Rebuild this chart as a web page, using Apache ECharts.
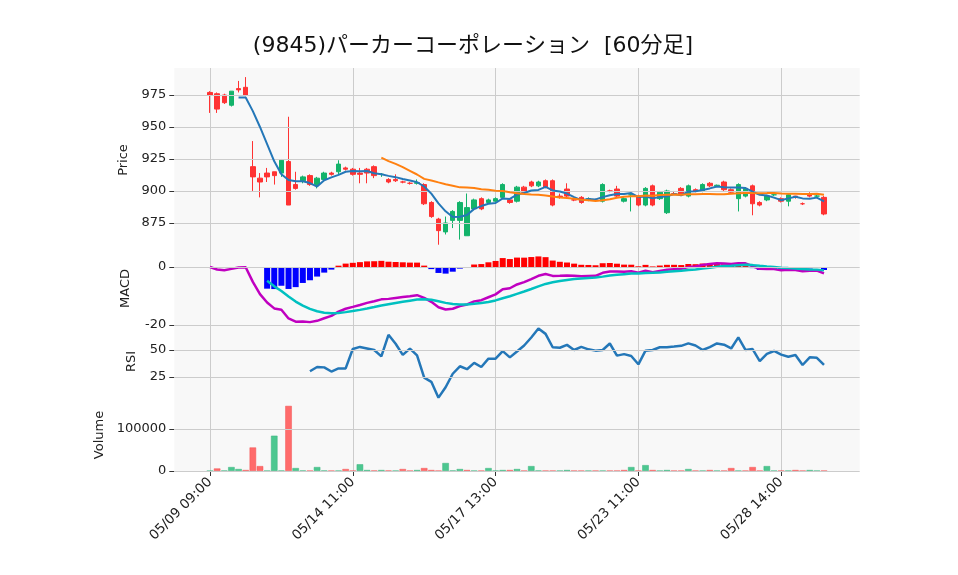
<![CDATA[<!DOCTYPE html>
<html><head><meta charset="utf-8">
<script src="https://cdn.jsdelivr.net/npm/echarts@6/dist/echarts.min.js"></script>
<style>html,body{margin:0;padding:0;background:#fff}#c{width:958px;height:575px}</style>
</head><body><div id="c"></div>
<script>
// ---- data ----
const days = ['05/09','05/10','05/13','05/14','05/15','05/16','05/17','05/20','05/21','05/22','05/23','05/24','05/27','05/28','05/29'];
const dayHours = [6,6,6,6,6,6,6,5,5,6,6,6,5,6,6];
const opens  = [977,976,975,967,980,981,919,910,914,915,914,923,905,908,912,905,909,914,915,918,917,914,917,919,913,909,909,907,906,906,905,891,878,868,877,877,865,886,894,891,892,895,893,892,903,907,904,908,908,896,901.5,893,895,893,893,892,900,901.5,892,897,896,889,904,894,883,898,902,896,901,900,906,904,907,901,894,896,904,891,893,897,894,892,896,890,898,896,895];
const closes = [975,964,969,978,979,975,911,907,911,912,924,889,902,911,905,910,914,913,921,917,913,913,914,912,913,907,908,907,906,906.5,890,880,869,875,884,891,887,893,886,893,894,905,891,903,899,904,907,903,889,895,896,893,891,894,893,905,900,896,894,897,889,902,889,899,900,898,897,904,900,905,904,904.5,901,899,905,902,890,889,896,897,892,897,895,890,896,896,882];
const lows   = [961,961,968,966,977,974,900,895,907,905,911,889,901,906,904,902,908,912,913,916,912,906,906,910,911,906,907,906,905,905,889,879,858,866,871,862,865,885,885,890,891,894,890,891,898,903,903,902,888,894,895,892,890,892,892,891,899,895,891,884,888,888,888,893,882,897,896,895,899,899,903,903,900,898,884,895,881,888,892,896,891,888,894,889,895,895,881];
const highs  = [978,977,976,978,986,989,939,914,918,915,925,958,915,912,913,911,915,915,924,919,918,918,918,920,914,910,913,908,907,909,906,892,879,880,885,892,898,894,895,894,895,906,894,904,904,908,908,909,909,898,906,894,896,895,894,906,901,904,895,898,897,903,905,900,901,900,903,905,902,906,907,905,908,902,906,903,905,892,897,898,895,898,896,891,899,897,896];
const volumes= [300,6000,800,9400,4700,2300,56000,11700,600,84000,800,155000,7000,1000,600,9400,1000,500,600,4700,600,16000,2300,1000,2300,1000,600,4700,600,2300,7000,2300,600,19000,1000,4700,2300,600,600,7000,600,2300,2300,4700,600,11700,1000,600,600,600,2300,600,600,600,600,600,600,600,2300,9400,600,14000,2300,600,2300,600,600,4700,600,600,2300,600,600,7000,600,600,9400,600,11700,600,600,600,2300,600,2300,600,600];
const priceTicks = [875,900,925,950,975];
const macdTicks = [-20,0];
const rsiTicks = [25,50];
const volTicks = [0,100000];

// ---- derived ----
const PAD = 5;
const labels = [];
for (let p=0;p<PAD;p++) labels.push('');
days.forEach((d,k)=>{
  const hrs = dayHours[k]===6 ? [9,10,11,12,13,14] : [9,10,11,13,14];
  hrs.forEach(h=>labels.push(d+' '+String(h).padStart(2,'0')+':00'));
});
for (let p=0;p<PAD;p++) labels.push('');
const N = closes.length;
const padArr = a => { const r=[]; for(let p=0;p<PAD;p++) r.push('-'); a.forEach(v=>r.push(v)); for(let p=0;p<PAD;p++) r.push('-'); return r; };
const ma = n => closes.map((_,i)=> i<n-1 ? '-' : closes.slice(i-n+1,i+1).reduce((s,v)=>s+v,0)/n);
const ema = (arr,n)=>{const k=2/(n+1);const r=[];arr.forEach((v,i)=>r.push(i===0?v:v*k+r[i-1]*(1-k)));return r;};
const e12=ema(closes,12), e26=ema(closes,26);
const macd=e12.map((v,i)=>v-e26[i]);
const sig=ema(macd,9);
const hist=macd.map((v,i)=> i<8?'-':v-sig[i]);
const rsi=closes.map((_,i)=>{ if(i<14) return '-'; let g=0,l=0; for(let j=i-13;j<=i;j++){const d=closes[j]-closes[j-1]; if(d>0)g+=d; else l-=d;} return 100*g/(g+l);});
const candles = padArr(opens.map((o,i)=>[o,closes[i],lows[i],highs[i]]));
const volData = padArr(volumes.map((v,i)=>({value:v,itemStyle:{color:(i===0||closes[i]>=closes[i-1])?'#4cc790':'#ff6b6b',borderColor:(i===0||closes[i]>=closes[i-1])?'#3bb57f':'#f25555',borderWidth:0.5}})));
const histData = padArr(hist.map(v=>v==='-'?'-':{value:v,itemStyle:{color:v>=0?'#ff0000':'#0000ff'}}));

const gridsPx = [[68,252],[252,325],[325,398],[398,472]];
const LEFT=174.3, RIGHT=958-859.7;
const grid = gridsPx.map(g=>({left:LEFT,right:RIGHT,top:g[0],height:g[1]-g[0],show:true,backgroundColor:'#f8f8f8',borderWidth:0}));
const showIdx = (i)=> i>=PAD && (i-PAD)%20===0 && i-PAD<N;
const xAxis = gridsPx.map((g,k)=>({type:'category',gridIndex:k,data:labels,boundaryGap:false,
  axisLine:{show:false},axisTick:{show:k===3,interval:showIdx,length:5,lineStyle:{color:'#333'}},
  axisLabel:{show:k===3,interval:showIdx,rotate:45,fontSize:13.5,color:'#222',fontFamily:'DejaVu Sans',margin:8},
  splitLine:{show:true,interval:showIdx,lineStyle:{color:'#cccccc',width:1}}}));
const yBase = (k,min,max,ticks,name,gap)=>({type:'value',gridIndex:k,min,max,
  name,nameLocation:'middle',nameGap:gap,nameTextStyle:{fontSize:13,color:'#222',fontFamily:'DejaVu Sans'},
  axisLine:{show:false},axisTick:{show:true,customValues:ticks,length:5,lineStyle:{color:'#333'}},
  axisLabel:{customValues:ticks,fontSize:13,color:'#222',fontFamily:'DejaVu Sans',margin:8,formatter:v=>String(v)},
  splitLine:{show:false}});
const yAxis=[yBase(0,852.3,996.1,priceTicks,'Price',42),yBase(1,-20,5.17,macdTicks,'MACD',42),
  yBase(2,5.6,73.1,rsiTicks,'RSI',36),yBase(3,-2400,173800,volTicks,'Volume',64)];
const hl = (ticks)=>({silent:true,symbol:'none',label:{show:false},lineStyle:{color:'#cccccc',width:1,type:'solid'},animation:false,data:ticks.map(v=>({yAxis:v}))});
const series=[
 {type:'candlestick',xAxisIndex:0,yAxisIndex:0,data:candles,barWidth:5,
  itemStyle:{color:'#13b36a',color0:'#ff3333',borderColor:'#13b36a',borderColor0:'#ff3333',borderWidth:1},markLine:hl(priceTicks)},
 {type:'line',xAxisIndex:0,yAxisIndex:0,data:padArr(ma(5)),showSymbol:false,lineStyle:{color:'#2477b8',width:2},z:5},
 {type:'line',xAxisIndex:0,yAxisIndex:0,data:padArr(ma(25)),showSymbol:false,lineStyle:{color:'#ff8010',width:2},z:5},
 {type:'bar',xAxisIndex:1,yAxisIndex:1,data:histData,barWidth:6,markLine:hl(macdTicks)},
 {type:'line',xAxisIndex:1,yAxisIndex:1,data:padArr(macd),showSymbol:false,lineStyle:{color:'#c000c0',width:2.5}},
 {type:'line',xAxisIndex:1,yAxisIndex:1,data:padArr(sig.map((v,i)=>i<8?'-':v)),showSymbol:false,lineStyle:{color:'#00c0c0',width:2.5}},
 {type:'line',xAxisIndex:2,yAxisIndex:2,data:padArr(rsi),showSymbol:false,lineStyle:{color:'#2477b8',width:2.5},markLine:hl(rsiTicks)},
 {type:'bar',xAxisIndex:3,yAxisIndex:3,data:volData,barWidth:6.5,markLine:hl(volTicks)}
];
const chart=echarts.init(document.getElementById('c'));
chart.setOption({animation:false,backgroundColor:'#fff',
 title:{text:'(9845)パーカーコーポレーション  [60分足]',left:468,top:30,textAlign:'center',textStyle:{fontSize:22,fontWeight:'normal',color:'#111',fontFamily:'DejaVu Sans, Noto Sans CJK JP'}},
 grid,xAxis,yAxis,series});
</script></body></html>]]>
